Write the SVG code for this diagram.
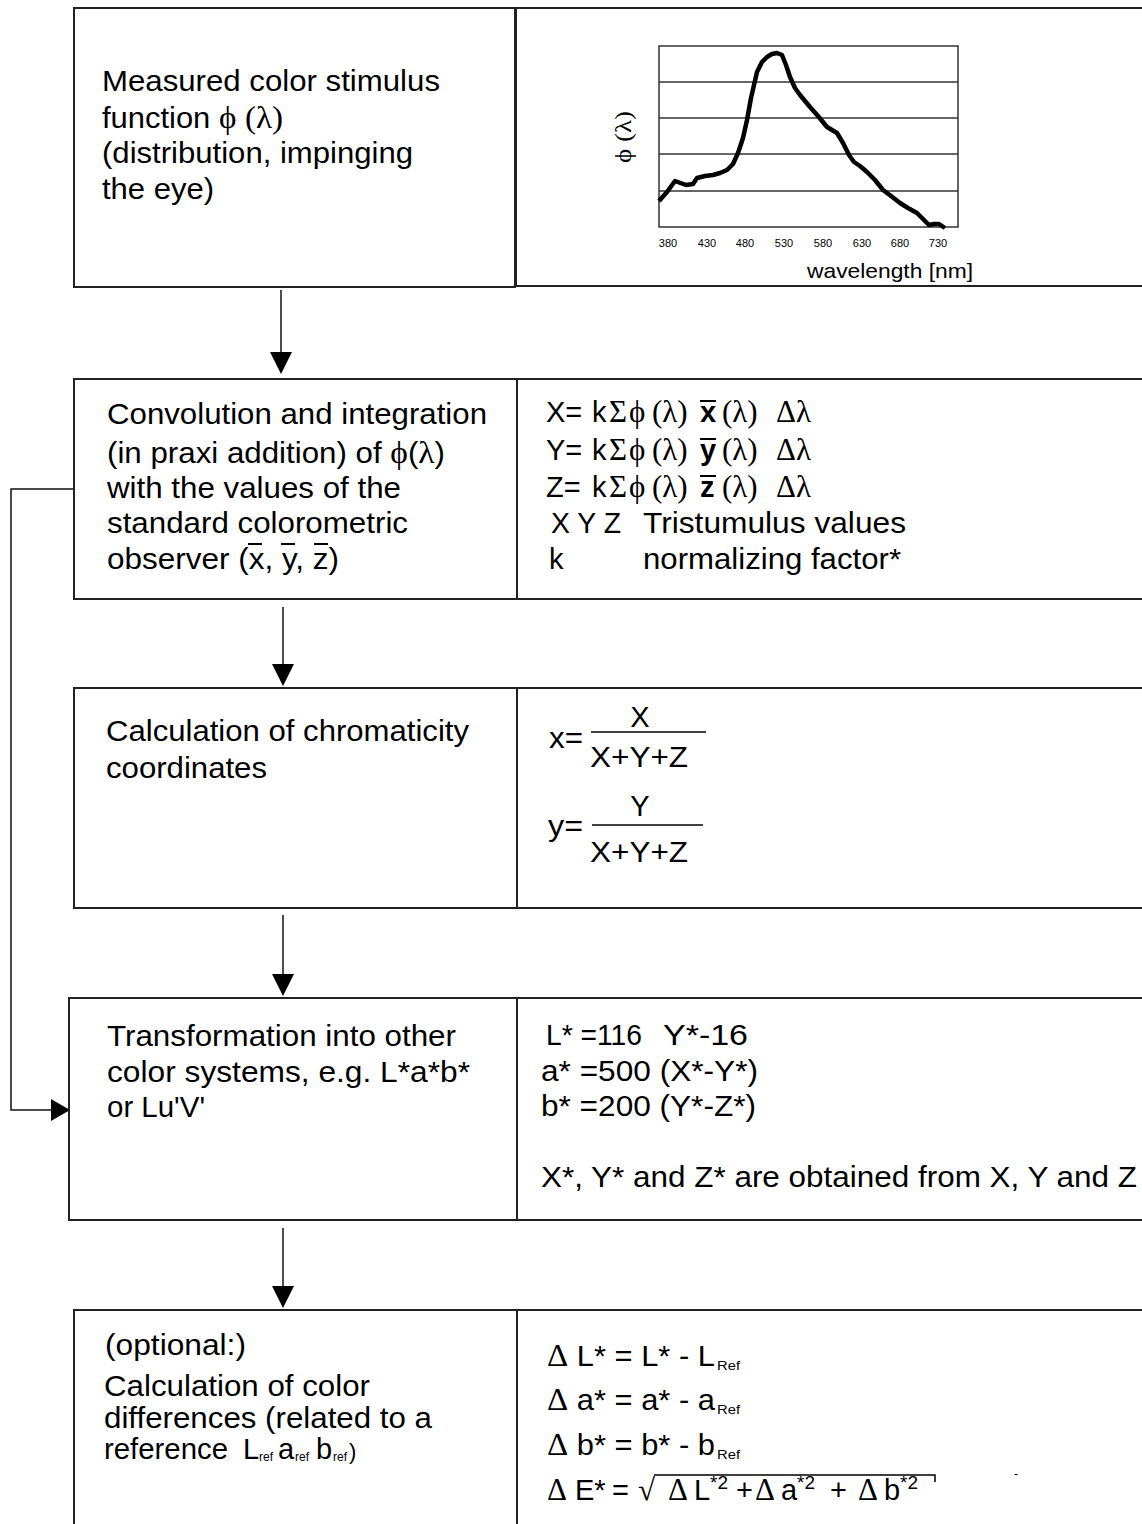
<svg xmlns="http://www.w3.org/2000/svg" width="1142" height="1524" viewBox="0 0 1142 1524">
<style>
.t{font-family:"Liberation Sans",Arial,sans-serif;font-size:29px;fill:#000}
.g{font-family:"Liberation Serif","Times New Roman",serif;font-size:31px}
.b{font-family:"Liberation Sans",Arial,sans-serif;font-weight:bold}
.box{fill:none;stroke:#222;stroke-width:2}
.con{fill:none;stroke:#111;stroke-width:1.5}
.ah{fill:#000}
.grid{stroke:#333;stroke-width:1.5;fill:none}
.tick{font-family:"Liberation Sans",Arial,sans-serif;font-size:11px;fill:#000}
.sub{font-family:"Liberation Sans",Arial,sans-serif;font-size:12px}
.sup{font-family:"Liberation Sans",Arial,sans-serif;font-size:19px}
.ov{stroke:#000;stroke-width:2}
</style>
<rect width="1142" height="1524" fill="#fff"/>

<g id="connectors">
<line class="con" x1="281" y1="290" x2="281" y2="356"/>
<polygon class="ah" points="270,352 292,352 281,374"/>
<line class="con" x1="283" y1="607" x2="283" y2="668"/>
<polygon class="ah" points="272,664 294,664 283,686"/>
<line class="con" x1="283" y1="915" x2="283" y2="978"/>
<polygon class="ah" points="272,974 294,974 283,996"/>
<line class="con" x1="283" y1="1228" x2="283" y2="1290"/>
<polygon class="ah" points="272,1286 294,1286 283,1308"/>
<polyline class="con" points="74,489 11,489 11,1110 54,1110"/>
<polygon class="ah" points="51,1099 51,1121 70,1110"/>
</g>

<g id="node1">
<rect class="box" x="74" y="8" width="441" height="279"/>
<rect class="box" x="516" y="8" width="700" height="278"/>
<text class="t" x="102" y="91" textLength="338" lengthAdjust="spacingAndGlyphs">Measured color stimulus</text>
<text class="t" x="102" y="128" textLength="181" lengthAdjust="spacingAndGlyphs">function <tspan class="g">ϕ</tspan> <tspan class="g">(λ)</tspan></text>
<text class="t" x="102" y="163" textLength="311" lengthAdjust="spacingAndGlyphs">(distribution, impinging</text>
<text class="t" x="102" y="199" textLength="112" lengthAdjust="spacingAndGlyphs">the eye)</text>
<g id="chart">
<line class="grid" x1="659" y1="82" x2="958" y2="82"/>
<line class="grid" x1="659" y1="118" x2="958" y2="118"/>
<line class="grid" x1="659" y1="154" x2="958" y2="154"/>
<line class="grid" x1="659" y1="191" x2="958" y2="191"/>
<rect class="grid" x="659" y="46" width="299" height="181"/>
<polyline fill="none" stroke="#000" stroke-width="4.5" stroke-linejoin="round" points="659,201 667,192 675,181 686,185 693,184 697,178 705,176 713,175 720,173 727,170 733,164 738,153 743,138 747,120 751,98 757,72 762,62 767,57 772,54 777,53 782,55 786,65 790,77 795,88 800,95 805,101 810,107 818,116 827,127 832,130 837,133 843,143 849,155 854,162 860,166 867,172 875,180 883,190 891,196 900,203 908,208 917,213 923,219 929,225 934,224 939,224 945,228"/>
<g class="tick" text-anchor="middle">
<text x="668" y="247">380</text><text x="707" y="247">430</text><text x="745" y="247">480</text><text x="784" y="247">530</text><text x="823" y="247">580</text><text x="862" y="247">630</text><text x="900" y="247">680</text><text x="938" y="247">730</text>
</g>
<text class="t" x="807" y="278" style="font-size:21px" textLength="166" lengthAdjust="spacingAndGlyphs">wavelength [nm]</text>
<text class="g" style="font-size:24px" transform="translate(631,163) rotate(-90)" textLength="52" lengthAdjust="spacingAndGlyphs">ϕ (λ)</text>
</g>
</g>

<g id="node2">
<rect class="box" x="74" y="379" width="443" height="220"/>
<rect class="box" x="517" y="379" width="700" height="220"/>
<text class="t" x="107" y="424" textLength="380" lengthAdjust="spacingAndGlyphs">Convolution and integration</text>
<text class="t" x="107" y="463" textLength="338" lengthAdjust="spacingAndGlyphs">(in praxi addition) of <tspan class="g">ϕ</tspan>(<tspan class="g">λ</tspan>)</text>
<text class="t" x="107" y="498" textLength="294" lengthAdjust="spacingAndGlyphs">with the values of the</text>
<text class="t" x="107" y="533" textLength="301" lengthAdjust="spacingAndGlyphs">standard colorometric</text>
<text class="t" x="107" y="569" textLength="232" lengthAdjust="spacingAndGlyphs">observer (x, y, z)</text>
<line class="ov" x1="248" y1="544" x2="262" y2="544"/>
<line class="ov" x1="281" y1="544" x2="295" y2="544"/>
<line class="ov" x1="314" y1="544" x2="328" y2="544"/>
<text class="t" x="546" y="422">X=<tspan x="592">k</tspan><tspan class="g" x="609">Σ</tspan><tspan class="g" x="629">ϕ</tspan><tspan class="g" x="652">(λ)</tspan><tspan class="b" x="700">x</tspan><tspan class="g" x="722">(λ)</tspan><tspan class="g" x="776">Δ</tspan><tspan class="g" x="796">λ</tspan></text>
<text class="t" x="546" y="460">Y=<tspan x="592">k</tspan><tspan class="g" x="609">Σ</tspan><tspan class="g" x="629">ϕ</tspan><tspan class="g" x="652">(λ)</tspan><tspan class="b" x="700">y</tspan><tspan class="g" x="722">(λ)</tspan><tspan class="g" x="776">Δ</tspan><tspan class="g" x="796">λ</tspan></text>
<text class="t" x="546" y="497">Z=<tspan x="592">k</tspan><tspan class="g" x="609">Σ</tspan><tspan class="g" x="629">ϕ</tspan><tspan class="g" x="652">(λ)</tspan><tspan class="b" x="700">z</tspan><tspan class="g" x="722">(λ)</tspan><tspan class="g" x="776">Δ</tspan><tspan class="g" x="796">λ</tspan></text>
<line class="ov" x1="700" y1="401" x2="716" y2="401"/>
<line class="ov" x1="700" y1="439" x2="716" y2="439"/>
<line class="ov" x1="700" y1="476" x2="716" y2="476"/>
<text class="t" x="551" y="533" textLength="70" lengthAdjust="spacingAndGlyphs">X Y Z</text>
<text class="t" x="643" y="533" textLength="263" lengthAdjust="spacingAndGlyphs">Tristumulus values</text>
<text class="t" x="549" y="569">k</text>
<text class="t" x="643" y="569" textLength="258" lengthAdjust="spacingAndGlyphs">normalizing factor*</text>
</g>

<g id="node3">
<rect class="box" x="74" y="688" width="443" height="220"/>
<rect class="box" x="517" y="688" width="700" height="220"/>
<text class="t" x="106" y="741" textLength="363" lengthAdjust="spacingAndGlyphs">Calculation of chromaticity</text>
<text class="t" x="106" y="778" textLength="161" lengthAdjust="spacingAndGlyphs">coordinates</text>
<text class="t" x="549" y="748" textLength="34" lengthAdjust="spacingAndGlyphs">x=</text>
<text class="t" x="640" y="727" text-anchor="middle">X</text>
<line x1="591" y1="732" x2="706" y2="732" stroke="#000" stroke-width="1.5"/>
<text class="t" x="590" y="767" textLength="98" lengthAdjust="spacingAndGlyphs">X+Y+Z</text>
<text class="t" x="548" y="836" textLength="35" lengthAdjust="spacingAndGlyphs">y=</text>
<text class="t" x="640" y="816" text-anchor="middle">Y</text>
<line x1="592" y1="825" x2="703" y2="825" stroke="#000" stroke-width="1.5"/>
<text class="t" x="590" y="862" textLength="98" lengthAdjust="spacingAndGlyphs">X+Y+Z</text>
</g>

<g id="node4">
<rect class="box" x="69" y="998" width="448" height="222"/>
<rect class="box" x="517" y="998" width="700" height="222"/>
<text class="t" x="107" y="1046" textLength="349" lengthAdjust="spacingAndGlyphs">Transformation into other</text>
<text class="t" x="107" y="1082" textLength="363" lengthAdjust="spacingAndGlyphs">color systems, e.g. L*a*b*</text>
<text class="t" x="107" y="1117" textLength="98" lengthAdjust="spacingAndGlyphs">or Lu'V'</text>
<text class="t" x="546" y="1045" textLength="96" lengthAdjust="spacingAndGlyphs">L* =116</text>
<text class="t" x="663" y="1045" textLength="85" lengthAdjust="spacingAndGlyphs">Y*-16</text>
<text class="t" x="541" y="1081" textLength="217" lengthAdjust="spacingAndGlyphs">a* =500 (X*-Y*)</text>
<text class="t" x="541" y="1116" textLength="215" lengthAdjust="spacingAndGlyphs">b* =200 (Y*-Z*)</text>
<text class="t" x="541" y="1187" textLength="596" lengthAdjust="spacingAndGlyphs">X*, Y* and Z* are obtained from X, Y and Z</text>
</g>

<g id="node5">
<rect class="box" x="74" y="1310" width="443" height="300"/>
<rect class="box" x="517" y="1310" width="700" height="300"/>
<text class="t" x="105" y="1355" textLength="141" lengthAdjust="spacingAndGlyphs">(optional:)</text>
<text class="t" x="104" y="1396" textLength="266" lengthAdjust="spacingAndGlyphs">Calculation of color</text>
<text class="t" x="104" y="1428" textLength="328" lengthAdjust="spacingAndGlyphs">differences (related to a</text>
<text class="t" x="104" y="1459" textLength="124" lengthAdjust="spacingAndGlyphs">reference</text>
<text class="t" x="243" y="1459">L</text>
<text class="sub" x="259" y="1461">ref</text>
<text class="t" x="278" y="1459">a</text>
<text class="sub" x="295" y="1461">ref</text>
<text class="t" x="316" y="1459">b</text>
<text class="sub" x="333" y="1461">ref</text>
<text class="t" x="349" y="1459" style="font-size:22px">)</text>

<text class="t" x="547" y="1366" textLength="168" lengthAdjust="spacingAndGlyphs"><tspan class="g">Δ</tspan> L* = L* - L</text>
<text class="sub" x="717" y="1370" textLength="23" lengthAdjust="spacingAndGlyphs">Ref</text>
<text class="t" x="547" y="1410" textLength="168" lengthAdjust="spacingAndGlyphs"><tspan class="g">Δ</tspan> a* = a* - a</text>
<text class="sub" x="717" y="1414" textLength="23" lengthAdjust="spacingAndGlyphs">Ref</text>
<text class="t" x="547" y="1455" textLength="168" lengthAdjust="spacingAndGlyphs"><tspan class="g">Δ</tspan> b* = b* - b</text>
<text class="sub" x="717" y="1459" textLength="23" lengthAdjust="spacingAndGlyphs">Ref</text>

<text class="t" x="547" y="1500"><tspan class="g">Δ</tspan><tspan x="575">E*</tspan><tspan x="612">=</tspan><tspan class="g" x="638">√</tspan><tspan class="g" x="668">Δ</tspan><tspan x="694">L</tspan><tspan class="sup" x="710" dy="-11">*2</tspan><tspan x="736" dy="11">+</tspan><tspan class="g" x="755">Δ</tspan><tspan x="781">a</tspan><tspan class="sup" x="797" dy="-11">*2</tspan><tspan x="830" dy="11">+</tspan><tspan class="g" x="858">Δ</tspan><tspan x="884">b</tspan><tspan class="sup" x="900" dy="-11">*2</tspan></text>
<polyline fill="none" stroke="#000" stroke-width="1.5" points="654,1475 935,1475 935,1482"/>
<text class="t" x="1014" y="1478" style="font-size:12px">-</text>
</g>
</svg>
